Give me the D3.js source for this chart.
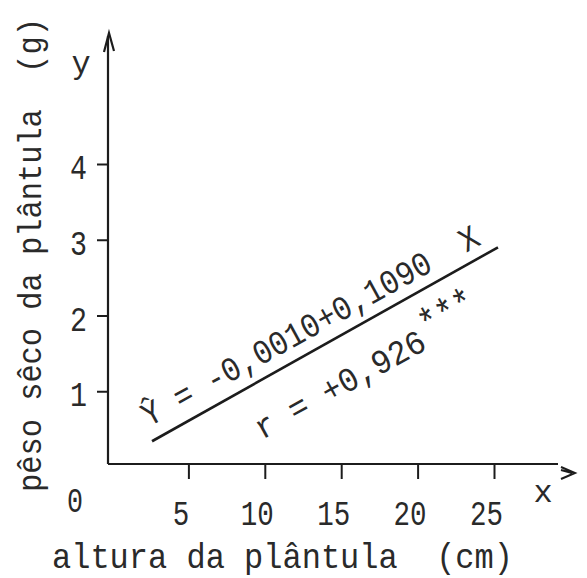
<!DOCTYPE html>
<html lang="pt">
<head>
<meta charset="UTF-8">
<title>pêso sêco x altura da plântula</title>
<script src="https://cdnjs.cloudflare.com/ajax/libs/d3/7.8.5/d3.min.js"></script>
<style>
  body { margin: 0; background: #fff; }
  svg { display: block; }
  .type { font-family: "Liberation Mono", "Courier New", monospace; fill: #2a2a2a; white-space: pre; }
</style>
</head>
<body>
<svg id="chart" width="587" height="578"></svg>
<script>
// values
const xTicks = [5, 10, 15, 20, 25];
const yTicks = [1, 2, 3, 4];
const fitX = [2.62, 25.26];   // ends of the drawn regression line (cm)
const fitY = [0.34, 2.90];    // (g)
const xTitle = "altura da plântula  (cm)";
const yTitle = "pêso sêco da plântula  (g)";
const equation = "Ŷ = -0,0010+0,1090  X";
const corr = "r = +0,926";
const corrSig = "***";

const ink = "#1c1c1c";
const svg = d3.select("#chart");

const x = d3.scaleLinear().domain([0, 25]).range([112, 494]);
const y = d3.scaleLinear().domain([0, 4]).range([467, 164]);

const axisX = 108, axisY = 464;
const fmt = d3.format("d");

// x axis ticks and labels
const gx = svg.append("g")
  .attr("transform", `translate(0,${axisY})`)
  .call(d3.axisBottom(x).tickValues(xTicks).tickFormat(fmt)
    .tickSize(15).tickPadding(14).tickSizeOuter(0));
gx.select(".domain").remove();
gx.selectAll("line").attr("stroke", ink).attr("stroke-width", 2);
gx.selectAll("text")
  .attr("class", "type")
  .attr("x", -8)
  .attr("dy", "0.92em")
  .style("font-size", "35px")
  .attr("textLength", d => fmt(d).length * 16.5)
  .attr("lengthAdjust", "spacingAndGlyphs");

// y axis ticks and labels
const gy = svg.append("g")
  .attr("transform", `translate(${axisX},0)`)
  .call(d3.axisLeft(y).tickValues(yTicks).tickFormat(fmt)
    .tickSize(11).tickPadding(10).tickSizeOuter(0));
gy.select(".domain").remove();
gy.selectAll("line").attr("stroke", ink).attr("stroke-width", 2);
gy.selectAll("text")
  .attr("class", "type")
  .attr("dy", "0.42em")
  .style("font-size", "35px")
  .attr("textLength", d => fmt(d).length * 17)
  .attr("lengthAdjust", "spacingAndGlyphs");

// axis lines with their typed arrow heads
svg.append("path")
  .attr("d", `M${axisX},${axisY}H558`)
  .attr("stroke", ink).attr("stroke-width", 2.2).attr("fill", "none");
svg.append("path")
  .attr("d", `M${axisX},${axisY}V36`)
  .attr("stroke", ink).attr("stroke-width", 2.2).attr("fill", "none");
svg.append("path")
  .attr("d", "M104,52L109,33L114,51")
  .attr("stroke", ink).attr("stroke-width", 2.2).attr("fill", "none");
svg.append("path")
  .attr("d", "M561,467L575,473L561,479M561,470L572,473")
  .attr("stroke", ink).attr("stroke-width", 2).attr("fill", "none");

// origin label and axis letters
svg.append("text").attr("class", "type")
  .attr("x", x(0) - 37).attr("y", 512)
  .attr("text-anchor", "middle")
  .style("font-size", "35px")
  .attr("textLength", 16).attr("lengthAdjust", "spacingAndGlyphs")
  .text("0");
svg.append("text").attr("class", "type")
  .attr("x", 81).attr("y", 73)
  .attr("text-anchor", "middle")
  .style("font-size", "32px")
  .text("y");
svg.append("text").attr("class", "type")
  .attr("x", 543).attr("y", 502)
  .attr("text-anchor", "middle")
  .style("font-size", "32px")
  .text("x");

// axis titles, slightly stretched upward like the typewriter face
svg.append("text").attr("class", "type")
  .attr("transform", "translate(52,568) scale(1,1.12)")
  .style("font-size", "32px")
  .attr("textLength", 461).attr("lengthAdjust", "spacingAndGlyphs")
  .text(xTitle);
svg.append("text").attr("class", "type")
  .attr("transform", "translate(41,492) rotate(-90) scale(1,1.08)")
  .style("font-size", "31px")
  .attr("textLength", 474).attr("lengthAdjust", "spacingAndGlyphs")
  .text(yTitle);

// regression line
svg.append("path")
  .datum(d3.zip(fitX, fitY))
  .attr("d", d3.line().x(d => x(d[0])).y(d => y(d[1])))
  .attr("stroke", ink).attr("stroke-width", 2.6).attr("fill", "none");

// equation and correlation, typed along the line
const angle = -28.8;
svg.append("text").attr("class", "type")
  .attr("transform", `translate(149,427) rotate(${angle}) scale(1,1.1)`)
  .style("font-size", "31px")
  .attr("textLength", 380).attr("lengthAdjust", "spacingAndGlyphs")
  .text(equation);

const rg = svg.append("g")
  .attr("transform", `translate(262,440) rotate(${angle})`);
rg.append("text").attr("class", "type")
  .attr("transform", "scale(1,1.1)")
  .style("font-size", "31px")
  .attr("textLength", 190).attr("lengthAdjust", "spacingAndGlyphs")
  .text(corr);
rg.append("text").attr("class", "type")
  .attr("x", 194).attr("y", -10)
  .style("font-size", "40px")
  .attr("textLength", 58).attr("lengthAdjust", "spacingAndGlyphs")
  .text(corrSig);
</script>
</body>
</html>
